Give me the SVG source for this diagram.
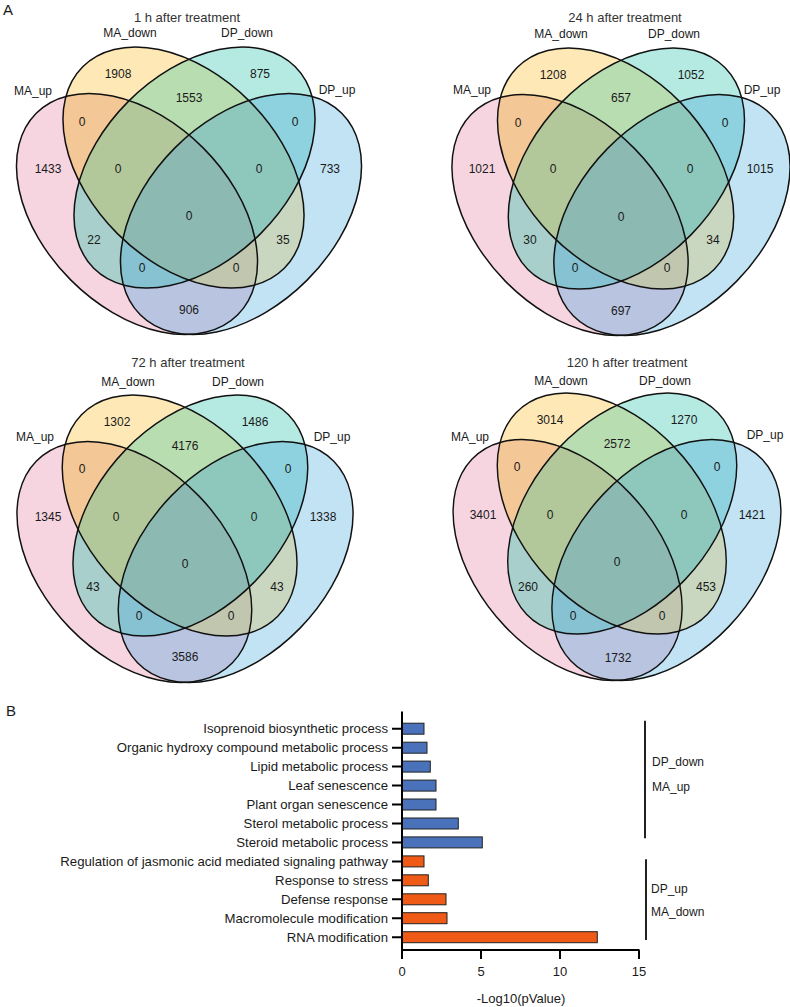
<svg xmlns="http://www.w3.org/2000/svg" width="790" height="1007" viewBox="0 0 790 1007">
<style>
text{font-family:"Liberation Sans",Arial,Helvetica,sans-serif;fill:#1a1a1a}
.n{font-size:12px;text-anchor:middle}
.lab{font-size:12px;text-anchor:middle}
.ttl{font-size:13px;text-anchor:middle;fill:#333}
.pl{font-size:15px}
.st{fill:none;stroke:#111;stroke-width:1.5}
.bb{fill:#4A72BA;stroke:#222;stroke-width:1}
.bo{fill:#EF5A17;stroke:#222;stroke-width:1}
.ax{stroke:#000;stroke-width:2;fill:none}
.gl{font-size:13.2px;text-anchor:end}
.tk{font-size:13px;text-anchor:middle}
.br{stroke:#222;stroke-width:2}
.bl{font-size:12px}
</style>
<defs>
<ellipse id="EP" cx="-52" cy="0" rx="142.5" ry="93.5" transform="rotate(45 -52 0)"/>
<ellipse id="EY" cx="-5.5" cy="-46.5" rx="142.5" ry="93.5" transform="rotate(45 -5.5 -46.5)"/>
<ellipse id="EC" cx="5.5" cy="-46.5" rx="142.5" ry="93.5" transform="rotate(-45 5.5 -46.5)"/>
<ellipse id="EB" cx="52" cy="0" rx="142.5" ry="93.5" transform="rotate(-45 52 0)"/>
<clipPath id="cP"><use href="#EP"/></clipPath>
<clipPath id="cY"><use href="#EY"/></clipPath>
<clipPath id="cC"><use href="#EC"/></clipPath>
<g id="venn">
<use href="#EP" fill="#F6D5E1"/>
<use href="#EY" fill="#FDE8B6"/>
<use href="#EC" fill="#B5EAE3"/>
<use href="#EB" fill="#C2E3F4"/>
<use href="#EY" clip-path="url(#cP)" fill="#F4C796"/>
<use href="#EC" clip-path="url(#cP)" fill="#A8CFCB"/>
<use href="#EB" clip-path="url(#cP)" fill="#B8C4E0"/>
<use href="#EC" clip-path="url(#cY)" fill="#B8DDB0"/>
<use href="#EB" clip-path="url(#cY)" fill="#C9D7C0"/>
<use href="#EB" clip-path="url(#cC)" fill="#8ED2E0"/>
<g clip-path="url(#cP)"><use href="#EC" clip-path="url(#cY)" fill="#B2C89A"/></g>
<g clip-path="url(#cP)"><use href="#EB" clip-path="url(#cY)" fill="#C1C6AF"/></g>
<g clip-path="url(#cP)"><use href="#EB" clip-path="url(#cC)" fill="#86C2D2"/></g>
<g clip-path="url(#cY)"><use href="#EB" clip-path="url(#cC)" fill="#8EC8BD"/></g>
<g clip-path="url(#cP)"><g clip-path="url(#cY)"><use href="#EB" clip-path="url(#cC)" fill="#8CB9B1"/></g></g>
<use href="#EP" class="st"/>
<use href="#EY" class="st"/>
<use href="#EC" class="st"/>
<use href="#EB" class="st"/>
</g>
</defs>
<rect width="790" height="1007" fill="#fff"/>
<text class="pl" x="3" y="15">A</text>
<text class="pl" x="6" y="716">B</text>

<g id="venn1">
<use href="#venn" transform="translate(189,214)"/>
<text class="ttl" x="187" y="21.5">1 h after treatment</text>
<text class="lab" x="33" y="95">MA_up</text>
<text class="lab" x="130" y="37">MA_down</text>
<text class="lab" x="247" y="37">DP_down</text>
<text class="lab" x="337" y="94">DP_up</text>
<text class="n" x="118" y="78.3">1908</text>
<text class="n" x="260" y="78.3">875</text>
<text class="n" x="189" y="102.3">1553</text>
<text class="n" x="82" y="126.3">0</text>
<text class="n" x="295" y="126.3">0</text>
<text class="n" x="48" y="173.3">1433</text>
<text class="n" x="118" y="173.3">0</text>
<text class="n" x="259" y="173.3">0</text>
<text class="n" x="330" y="173.3">733</text>
<text class="n" x="189" y="220.3">0</text>
<text class="n" x="94" y="244.3">22</text>
<text class="n" x="283" y="244.3">35</text>
<text class="n" x="142" y="272.3">0</text>
<text class="n" x="236" y="272.3">0</text>
<text class="n" x="189" y="314.3">906</text>
</g>

<g id="venn2">
<use href="#venn" transform="translate(621,215) scale(0.98,1)"/>
<text class="ttl" x="625" y="21.5">24 h after treatment</text>
<text class="lab" x="472" y="94">MA_up</text>
<text class="lab" x="561" y="38">MA_down</text>
<text class="lab" x="674" y="38">DP_down</text>
<text class="lab" x="762" y="94">DP_up</text>
<text class="n" x="553" y="79.3">1208</text>
<text class="n" x="691" y="79.3">1052</text>
<text class="n" x="621" y="102.3">657</text>
<text class="n" x="518" y="127.3">0</text>
<text class="n" x="725" y="127.3">0</text>
<text class="n" x="482" y="173.3">1021</text>
<text class="n" x="553" y="173.3">0</text>
<text class="n" x="690" y="173.3">0</text>
<text class="n" x="760" y="173.3">1015</text>
<text class="n" x="621" y="221.3">0</text>
<text class="n" x="530" y="244.3">30</text>
<text class="n" x="713" y="244.3">34</text>
<text class="n" x="575" y="272.3">0</text>
<text class="n" x="667" y="272.3">0</text>
<text class="n" x="621" y="315.3">697</text>
</g>

<g id="venn3">
<use href="#venn" transform="translate(185,562) scale(0.974,1)"/>
<text class="ttl" x="188" y="366.5">72 h after treatment</text>
<text class="lab" x="35" y="441">MA_up</text>
<text class="lab" x="128" y="386">MA_down</text>
<text class="lab" x="238" y="386">DP_down</text>
<text class="lab" x="332" y="441">DP_up</text>
<text class="n" x="117" y="426.3">1302</text>
<text class="n" x="255" y="426.3">1486</text>
<text class="n" x="185" y="450.3">4176</text>
<text class="n" x="82" y="473.3">0</text>
<text class="n" x="288" y="473.3">0</text>
<text class="n" x="48" y="521.3">1345</text>
<text class="n" x="116" y="521.3">0</text>
<text class="n" x="254" y="521.3">0</text>
<text class="n" x="323" y="521.3">1338</text>
<text class="n" x="185" y="568.3">0</text>
<text class="n" x="93" y="591.3">43</text>
<text class="n" x="277" y="591.3">43</text>
<text class="n" x="139" y="620.3">0</text>
<text class="n" x="231" y="620.3">0</text>
<text class="n" x="185" y="661.3">3586</text>
</g>

<g id="venn4">
<use href="#venn" transform="translate(617,560) scale(0.95,1)"/>
<text class="ttl" x="627" y="366.5">120 h after treatment</text>
<text class="lab" x="470" y="441">MA_up</text>
<text class="lab" x="561" y="385">MA_down</text>
<text class="lab" x="665" y="385">DP_down</text>
<text class="lab" x="765" y="439">DP_up</text>
<text class="n" x="550" y="424.3">3014</text>
<text class="n" x="684" y="424.3">1270</text>
<text class="n" x="617" y="448.3">2572</text>
<text class="n" x="517" y="471.3">0</text>
<text class="n" x="717" y="471.3">0</text>
<text class="n" x="483" y="519.3">3401</text>
<text class="n" x="550" y="519.3">0</text>
<text class="n" x="684" y="519.3">0</text>
<text class="n" x="752" y="519.3">1421</text>
<text class="n" x="617" y="566.3">0</text>
<text class="n" x="528" y="591.3">260</text>
<text class="n" x="706" y="591.3">453</text>
<text class="n" x="573" y="620.3">0</text>
<text class="n" x="662" y="620.3">0</text>
<text class="n" x="618" y="662.3">1732</text>
</g>

<g id="barchart">
<g id="bars">
<rect class="bb" x="402" y="723.2" width="22" height="11"/>
<rect class="bb" x="402" y="742.2" width="25" height="11"/>
<rect class="bb" x="402" y="761.1" width="28.3" height="11"/>
<rect class="bb" x="402" y="780.1" width="34" height="11"/>
<rect class="bb" x="402" y="799" width="34" height="11"/>
<rect class="bb" x="402" y="818" width="56.3" height="11"/>
<rect class="bb" x="402" y="836.9" width="80.3" height="11"/>
<rect class="bo" x="402" y="855.9" width="22" height="11"/>
<rect class="bo" x="402" y="874.8" width="26.3" height="11"/>
<rect class="bo" x="402" y="893.8" width="44" height="11"/>
<rect class="bo" x="402" y="912.7" width="45" height="11"/>
<rect class="bo" x="402" y="931.7" width="195.3" height="11"/>
</g>
<g id="axes">
<path class="ax" d="M402 711.5V959M401 950H639.5M481 950V959M560 950V959M639 950V959"/>
<path class="ax" d="M392 728.7H402M392 747.7H402M392 766.6H402M392 785.6H402M392 804.5H402M392 823.5H402M392 842.4H402M392 861.4H402M392 880.3H402M392 899.3H402M392 918.2H402M392 937.2H402"/>
<text class="tk" x="402" y="976">0</text>
<text class="tk" x="481" y="976">5</text>
<text class="tk" x="560" y="976">10</text>
<text class="tk" x="639" y="976">15</text>
<text class="tk" x="521" y="1002.5">-Log10(pValue)</text>
</g>
<g id="labels">
<text class="gl" x="388" y="733.2">Isoprenoid biosynthetic process</text>
<text class="gl" x="388" y="752.2">Organic hydroxy compound metabolic process</text>
<text class="gl" x="388" y="771.1">Lipid metabolic process</text>
<text class="gl" x="388" y="790.1">Leaf senescence</text>
<text class="gl" x="388" y="809">Plant organ senescence</text>
<text class="gl" x="388" y="828">Sterol metabolic process</text>
<text class="gl" x="388" y="846.9">Steroid metabolic process</text>
<text class="gl" x="388" y="865.9">Regulation of jasmonic acid mediated signaling pathway</text>
<text class="gl" x="388" y="884.8">Response to stress</text>
<text class="gl" x="388" y="903.8">Defense response</text>
<text class="gl" x="388" y="922.7">Macromolecule modification</text>
<text class="gl" x="388" y="941.7">RNA modification</text>
</g>
<g id="group-down">
<line class="br" x1="645" y1="720.7" x2="645" y2="838.3"/>
<text class="bl" x="652" y="765.5">DP_down</text>
<text class="bl" x="652" y="790.5">MA_up</text>
</g>
<g id="group-up">
<line class="br" x1="646" y1="859.3" x2="646" y2="940"/>
<text class="bl" x="651" y="892.8">DP_up</text>
<text class="bl" x="651" y="916.2">MA_down</text>
</g>
</g>
</svg>
